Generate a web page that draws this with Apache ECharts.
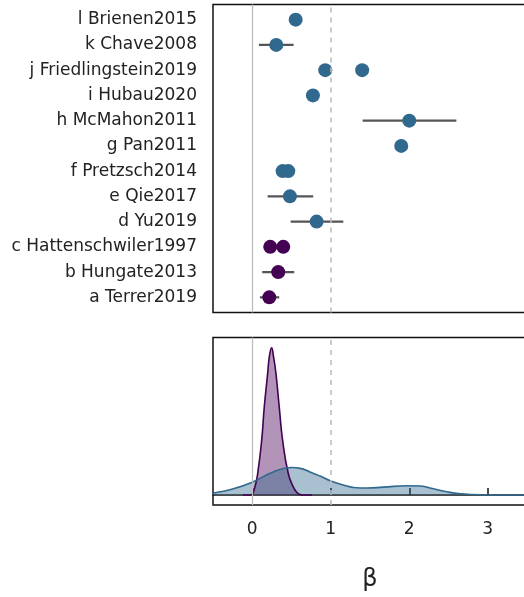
<!DOCTYPE html>
<html>
<head>
<meta charset="utf-8">
<script src="https://cdn.jsdelivr.net/npm/echarts@6/dist/echarts.min.js"></script>
<style>
  html, body { margin: 0; padding: 0; background: #ffffff; }
  #chart { width: 524px; height: 597px; }
</style>
</head>
<body>
<div id="chart"></div>
<script>
// Study labels, bottom (row 1) to top (row 12)
const studies = [
  'a Terrer2019', 'b Hungate2013', 'c Hattenschwiler1997', 'd Yu2019',
  'e Qie2017', 'f Pretzsch2014', 'g Pan2011', 'h McMahon2011',
  'i Hubau2020', 'j Friedlingstein2019', 'k Chave2008', 'l Brienen2015'
];

// Point estimates of beta: [row, beta]
const blueEstimates = [
  [4, 0.82], [5, 0.48], [6, 0.387], [6, 0.459], [7, 1.898], [8, 2.0],
  [9, 0.773], [10, 0.93], [10, 1.40], [11, 0.306], [12, 0.553]
];
const purpleEstimates = [
  [1, 0.217], [2, 0.331], [3, 0.229], [3, 0.395]
];

// Uncertainty intervals: [row, lower, upper]
const intervals = [
  [1, 0.098, 0.344], [2, 0.127, 0.535], [4, 0.489, 1.16],
  [5, 0.196, 0.777], [8, 1.406, 2.60], [11, 0.085, 0.527]
];

// Density curves of beta
const purpleDensX = [-0.12, -0.05, -0.01, 0.034, 0.069, 0.12, 0.153, 0.196, 0.217, 0.247,
  0.272, 0.302, 0.344, 0.387, 0.459, 0.522, 0.57, 0.608, 0.65, 0.76];
const purpleDensY = [0, 0, 0.01, 0.30, 0.79, 2.01, 3.23, 4.46, 5.07, 5.41,
  5.07, 4.46, 3.23, 2.01, 0.79, 0.30, 0.09, 0.02, 0, 0];
const blueDensX = [-0.6, -0.5, -0.25, 0.0, 0.26, 0.5, 0.611, 0.735, 0.862, 1.0, 1.16, 1.29,
  1.46, 1.67, 1.97, 2.14, 2.31, 2.48, 2.65, 2.9, 3.2, 3.6];
const blueDensY = [0.05, 0.073, 0.22, 0.47, 0.84, 1.01, 0.98, 0.85, 0.70, 0.52, 0.37, 0.28,
  0.26, 0.29, 0.34, 0.33, 0.23, 0.12, 0.05, 0.01, 0.003, 0.001];

const xTicks = [0, 1, 2, 3];

const BLUE = '#31688E';
const PURPLE = '#440154';
const FONT = 'DejaVu Sans';
const X_MIN = -0.5, X_MAX = 3.5;

const refLines = {
  silent: true,
  symbol: 'none',
  label: { show: false },
  data: [
    { xAxis: 0, lineStyle: { color: '#bdbdbd', type: 'solid', width: 1.3 } },
    { xAxis: 1, lineStyle: { color: '#bdbdbd', type: [5, 5], width: 1.6 } }
  ]
};

const zip = (xs, ys) => xs.map((x, i) => [x, ys[i]]);

const chart = echarts.init(document.getElementById('chart'), null, { renderer: 'canvas' });

chart.setOption({
  animation: false,
  backgroundColor: '#ffffff',
  grid: [
    { left: 213, top: 4.5, width: 314, height: 308, show: true, outerBoundsMode: 'none',
      containLabel: false,
      borderColor: '#111', borderWidth: 1.5, backgroundColor: 'transparent' },
    { left: 213, top: 337.5, width: 314, height: 167.5, show: true, outerBoundsMode: 'none',
      containLabel: false,
      borderColor: '#111', borderWidth: 1.5, backgroundColor: 'transparent' }
  ],
  xAxis: [
    { gridIndex: 0, type: 'value', min: X_MIN, max: X_MAX,
      axisLine: { show: false }, axisTick: { show: false },
      axisLabel: { show: false }, splitLine: { show: false } },
    { gridIndex: 1, type: 'value', min: X_MIN, max: X_MAX,
      name: 'β', nameLocation: 'middle', nameGap: 63,
      nameTextStyle: { fontFamily: FONT, fontSize: 24, color: '#222' },
      axisLine: { show: true, lineStyle: { color: '#111', width: 1.5 } },
      axisTick: { show: true, inside: true, length: 7, customValues: xTicks,
        lineStyle: { color: '#111', width: 1.5 } },
      axisLabel: { show: true, customValues: xTicks, margin: 16,
        fontFamily: FONT, fontSize: 17, color: '#222' },
      splitLine: { show: false } }
  ],
  yAxis: [
    { gridIndex: 0, type: 'value', min: 0.4, max: 12.6,
      axisLine: { show: false }, axisTick: { show: false },
      axisLabel: { show: true, customValues: studies.map((_, i) => i + 1), margin: 16,
        fontFamily: FONT, fontSize: 17, color: '#222',
        formatter: v => studies[Math.round(v) - 1] || '' },
      splitLine: { show: false } },
    { gridIndex: 1, type: 'value', min: -0.366, max: 5.79,
      axisLine: { show: false }, axisTick: { show: false },
      axisLabel: { show: false }, splitLine: { show: false } }
  ],
  series: [
    // reference lines, top panel
    { type: 'line', xAxisIndex: 0, yAxisIndex: 0, data: [], markLine: refLines, z: 1 },
    // interval bars
    { type: 'custom', xAxisIndex: 0, yAxisIndex: 0, z: 3,
      data: intervals,
      encode: { x: [1, 2], y: 0 },
      renderItem: (params, api) => {
        const p0 = api.coord([api.value(1), api.value(0)]);
        const p1 = api.coord([api.value(2), api.value(0)]);
        return { type: 'line',
          shape: { x1: p0[0], y1: p0[1], x2: p1[0], y2: p1[1] },
          style: { stroke: '#555555', lineWidth: 2.3 } };
      } },
    { type: 'scatter', xAxisIndex: 0, yAxisIndex: 0, z: 4, symbolSize: 14,
      itemStyle: { color: BLUE, opacity: 1 },
      data: blueEstimates.map(d => [d[1], d[0]]) },
    { type: 'scatter', xAxisIndex: 0, yAxisIndex: 0, z: 4, symbolSize: 14,
      itemStyle: { color: PURPLE, opacity: 1 },
      data: purpleEstimates.map(d => [d[1], d[0]]) },
    // reference lines, density panel
    { type: 'line', xAxisIndex: 1, yAxisIndex: 1, data: [], markLine: refLines, z: 1 },
    // densities
    { type: 'line', xAxisIndex: 1, yAxisIndex: 1, z: 2,
      data: zip(purpleDensX, purpleDensY), showSymbol: false, symbol: 'none',
      smooth: 0.5,
      lineStyle: { color: PURPLE, width: 1.6 },
      areaStyle: { color: PURPLE, opacity: 0.42 } },
    { type: 'line', xAxisIndex: 1, yAxisIndex: 1, z: 2,
      data: zip(blueDensX, blueDensY), showSymbol: false, symbol: 'none',
      smooth: 0.5,
      lineStyle: { color: BLUE, width: 1.6 },
      areaStyle: { color: BLUE, opacity: 0.42 } }
  ]
});
</script>
</body>
</html>
